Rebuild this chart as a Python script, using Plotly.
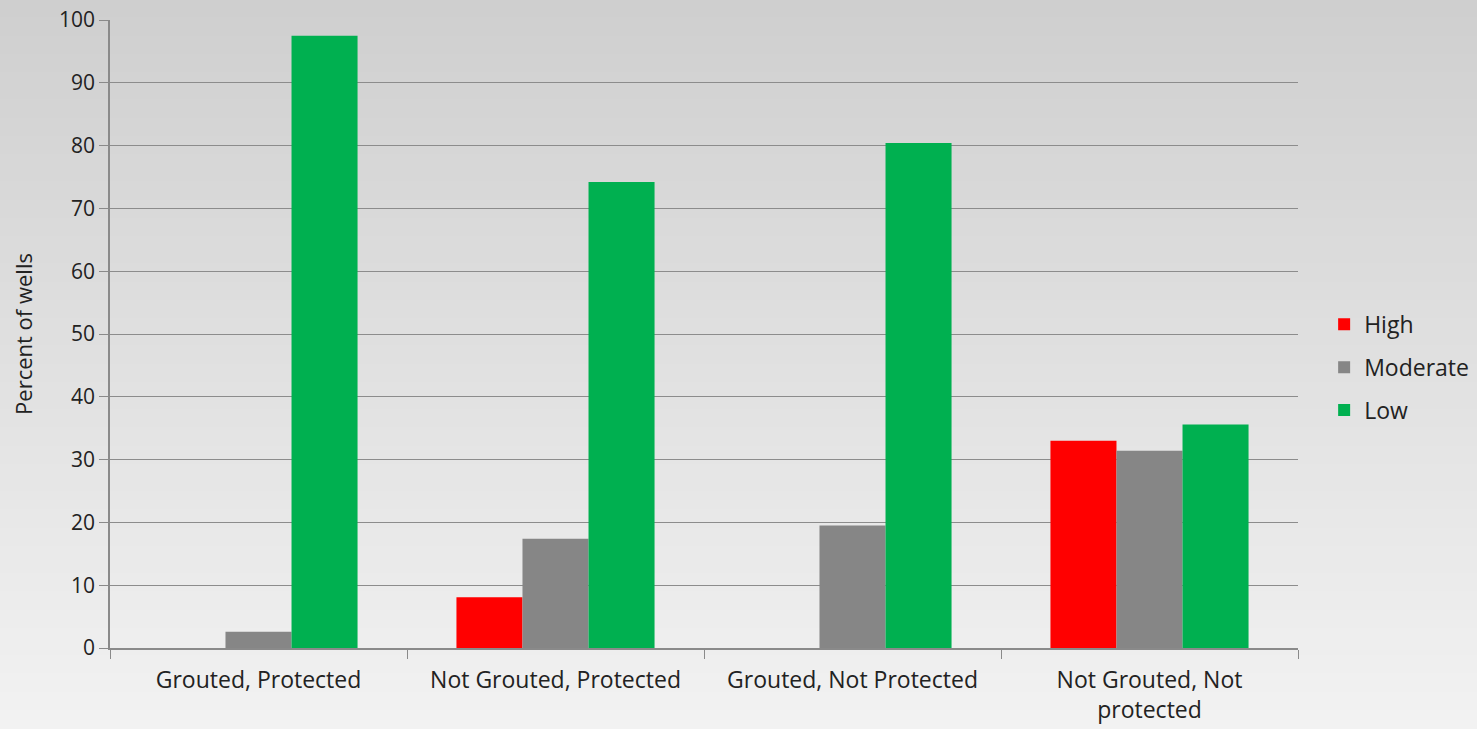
import plotly.graph_objects as go

categories = ["Grouted, Protected", "Not Grouted, Protected", "Grouted, Not Protected", "Not Grouted, Not<br>protected"]
high = [0, 8.1, 0, 33.0]
moderate = [2.6, 17.4, 19.5, 31.4]
low = [97.5, 74.2, 80.4, 35.6]
y_ticks = [0, 10, 20, 30, 40, 50, 60, 70, 80, 90, 100]

W, H = 1477, 729
ml, mr, mt, mb = 110, 179, 20, 81
font_family = "Open Sans, Lato, sans-serif"

fig = go.Figure()
series = [("High", high, "#ff0000"), ("Moderate", moderate, "#868686"), ("Low", low, "#00b050")]
for i, (name, vals, col) in enumerate(series):
    fig.add_trace(go.Bar(
        x=categories, y=vals, name=name, marker_color=col,
        marker_line=dict(width=0),
        legendgroup=name,
    ))

# background gradient
ph = H - mt - mb
n = 80
shapes = []
y0p = -mb / ph
y1p = 1 + mt / ph
top = (207, 207, 207)
bot = (242, 242, 242)
for k in range(n):
    t = k / (n - 1)
    c = tuple(int(round(top[j] + (bot[j] - top[j]) * t)) for j in range(3))
    ya = y1p - (y1p - y0p) * k / n
    yb = y1p - (y1p - y0p) * (k + 1) / n
    shapes.append(dict(type="rect", xref="paper", yref="paper",
                       x0=-ml / (W - ml - mr) - 0.01, x1=1 + mr / (W - ml - mr) + 0.01,
                       y0=yb - 0.002, y1=ya + 0.002, layer="below",
                       fillcolor="rgb(%d,%d,%d)" % c, line=dict(width=0)))

fig.update_layout(
    width=W, height=H,
    margin=dict(l=ml, r=mr, t=mt, b=mb, autoexpand=False),
    paper_bgcolor="rgba(0,0,0,0)", plot_bgcolor="rgba(0,0,0,0)",
    shapes=shapes,
    barmode="group", bargap=0.333, bargroupgap=0,
    font=dict(family=font_family, color="#222222", size=22),
    showlegend=True,
    legend=dict(x=1.022, y=0.447, xanchor="left", yanchor="middle",
                font=dict(size=23, color="#222222"), bgcolor="rgba(0,0,0,0)",
                tracegroupgap=10, itemwidth=30),
    xaxis=dict(showline=True, linecolor="#8a8a8a", linewidth=1.5, automargin=False,
               ticks="outside", tickson="boundaries", ticklen=9, tickcolor="#8a8a8a",
               ticklabelstandoff=11,
               tickfont=dict(size=23, color="#222222"), showgrid=False),
    yaxis=dict(range=[0, 100], tickvals=y_ticks, showline=True, linecolor="#8a8a8a", linewidth=1.5,
               automargin=False,
               ticks="outside", ticklen=9, tickcolor="#8a8a8a",
               showgrid=True, gridcolor="#8c8c8c", gridwidth=1.3,
               tickfont=dict(size=21, color="#222222"),
               title=dict(text="Percent of wells", font=dict(size=22, color="#222222"), standoff=20),
               zeroline=False),
)
fig.write_html("out.html")
